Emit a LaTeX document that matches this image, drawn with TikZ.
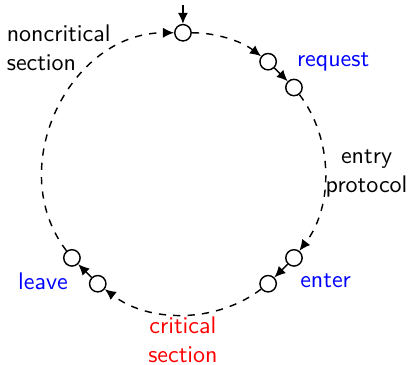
\documentclass[tikz,border=0pt]{standalone}
\usetikzlibrary{arrows.meta}

\tikzset{
  state/.style={draw, circle, semithick, fill=white, inner sep=0pt, minimum size=0.24cm},
  flow/.style={->, semithick, dashed},
  hop/.style={->, semithick},
  lbl/.style={font=\sffamily, inner sep=0pt, align=center}
}

\begin{document}
\begin{tikzpicture}[>={Latex[length=4.6pt, width=4.2pt]}]
        \useasboundingbox (-2.68,-2.81) rectangle (3.37,2.53);

        % Zustaende auf dem Kreis (r = 2.05cm)
        \node[state] (top) at (90:2.05) {};
        \node[state] (req1) at (52.5:2.05) {};
        \node[state] (req2) at (37.5:2.05) {};
        \node[state] (ent1) at (-37.5:2.05) {};
        \node[state] (ent2) at (-52.5:2.05) {};
        \node[state] (lv1) at (-127.5:2.05) {};
        \node[state] (lv2) at (-142.5:2.05) {};

        % Einstieg
        \coordinate (start) at (0,2.46);
        \draw[hop] (start) -- (top);

        % Boegen zwischen den Phasen
        \draw[flow] (top) to[bend left=18.75, looseness=0.87] (req1);
        \draw[flow] (req2) to[bend left=37.5, looseness=0.92] (ent1);
        \draw[flow] (ent2) to[bend left=37.5, looseness=0.92] (lv1);
        \draw[flow] (lv2) to[bend left=63.75, looseness=1.1] (top);

        % kurze Uebergaenge
        \draw[hop] (req1) -- (req2);
        \draw[hop] (ent1) -- (ent2);
        \draw[hop] (lv1) -- (lv2);

        % Beschriftungen
        \node[lbl, align=left] (ncs) at (-1.82,1.83) {noncritical\\section};
        \node[lbl, text=blue] (lreq) at (2.20,1.62) {request};
        \node[lbl] (lentry) at (2.69,-0.01) {entry\\protocol};
        \node[lbl, text=blue] (lent) at (2.09,-1.59) {enter};
        \node[lbl, text=blue] (llv) at (-2.05,-1.59) {leave};
        \node[lbl, text=red] (lcs) at (0,-2.45) {critical\\section};
      \end{tikzpicture}
\end{document}
